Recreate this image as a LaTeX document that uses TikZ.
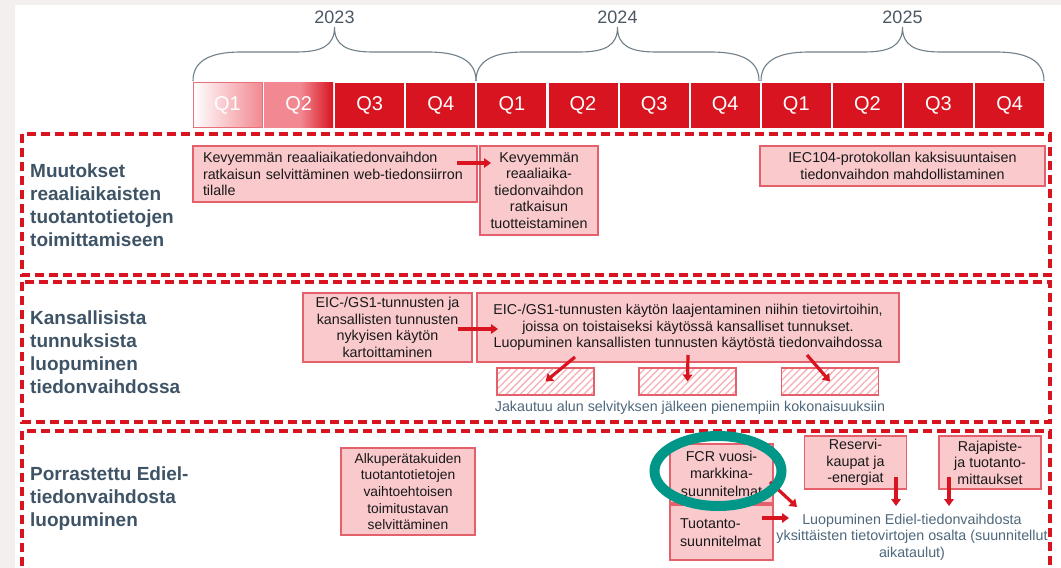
\documentclass[tikz,border=0pt]{standalone}
\usepackage{fontspec}
\setmainfont{Liberation Sans}
\usetikzlibrary{arrows.meta,patterns.meta}
\definecolor{dred}{RGB}{215,20,31}
\definecolor{qpink}{RGB}{242,137,146}
\definecolor{qline}{RGB}{232,112,122}
\definecolor{taskfill}{RGB}{249,201,204}
\definecolor{taskline}{RGB}{228,96,106}
\definecolor{hatchpink}{RGB}{246,176,182}
\definecolor{titleblue}{RGB}{62,84,102}
\definecolor{noteblue}{RGB}{78,104,125}
\definecolor{yeargray}{RGB}{75,88,100}
\definecolor{bracegray}{RGB}{112,128,138}
\definecolor{ringteal}{RGB}{0,150,136}
\definecolor{pagegray}{RGB}{244,239,239}
\pgfdeclarehorizontalshading{qtwoshade}{100bp}{color(0bp)=(qpink); color(25bp)=(qpink); color(51bp)=(qpink); color(75bp)=(dred); color(100bp)=(dred)}
\tikzset{
    qbox/.style={minimum width=69pt, minimum height=45pt, inner sep=0pt, text=white, font=\fontsize{20}{24}\selectfont},
    task/.style={draw=taskline, fill=taskfill, line width=1.2pt, inner sep=0pt, align=center, text=black!90, font=\fontsize{14.3}{16.6}\selectfont},
    phase/.style={draw=dred, line width=3.3pt, dash pattern=on 9pt off 5pt},
    phasetitle/.style={anchor=west, align=left, inner sep=0pt, text=titleblue, font=\fontsize{19}{23}\bfseries\selectfont},
    note/.style={align=center, inner sep=0pt, text=noteblue, font=\fontsize{14.3}{16.6}\selectfont},
    redarrow/.style={draw=dred, line width=3.2pt, -{Triangle[length=7pt,width=9.5pt]}},
    hatchbox/.style={draw=taskline, line width=1.2pt, minimum width=97pt, minimum height=27pt, inner sep=0pt, pattern={Lines[angle=45,distance=5pt,line width=1.3pt]}, pattern color=hatchpink},
    yearlabel/.style={text=yeargray, font=\fontsize{18}{20}\selectfont}
}

\begin{document}
\begin{tikzpicture}[x=1pt,y=-1pt]
        \useasboundingbox (0,0) rectangle (1061,568);
        \fill[pagegray] (0,0) rectangle (1061,568);
        \fill[white] (15,5) rectangle (1061,568);

        \foreach \x/\yr in {193/2023,476/2024,761/2025} {
            \draw[bracegray, line width=1.1pt] (\x,81) .. controls (\x,62) and (\x+15,52) .. (\x+48,52) -- (\x+103,52)
                .. controls (\x+130,52) and (\x+141.5,45) .. (\x+141.5,27)
                .. controls (\x+141.5,45) and (\x+153,52) .. (\x+180,52) -- (\x+235,52)
                .. controls (\x+268,52) and (\x+283,62) .. (\x+283,81);
            \node[yearlabel] (y\yr) at (\x+141.5,17) {\yr};
        }

        \node[qbox, left color=white, right color=qpink, draw=qline, line width=1pt] (q0) at (227.5,105) {Q1};
        \node[qbox, shading=qtwoshade] (q1) at (298.6,105) {Q2};
        \foreach \i in {2,...,11} {
            \pgfmathtruncatemacro\q{mod(\i,4)+1}
            \node[qbox, fill=dred] (q\i) at (227.5+\i*71.1,105) {Q\q};
        }

        \draw[phase] (22,134) rectangle (1050,275);
        \draw[phase] (22,282) rectangle (1050,422);
        \draw[phase] (22,580) -- (22,431) -- (1050,431) -- (1050,580);

        \node[phasetitle] (t1) at (30,205) {Muutokset\\reaaliaikaisten\\tuotantotietojen\\toimittamiseen};
        \node[phasetitle] (t2) at (30,352) {Kansallisista\\tunnuksista\\luopuminen\\tiedonvaihdossa};
        \node[phasetitle] (t3) at (30,499) {Porrastettu Ediel-\\tiedonvaihdosta\\luopuminen};

        \node[task, align=left, text width=264pt, inner xsep=10pt, minimum height=56pt] (kevsel) at (335,174)
            {Kevyemmän reaaliaikatiedonvaihdon\\ratkaisun selvittäminen web-tiedonsiirron\\tilalle};
        \node[task, minimum width=118pt, minimum height=89pt] (kevtuo) at (539,190.5)
            {Kevyemmän\\reaaliaika-\\tiedonvaihdon\\ratkaisun\\tuotteistaminen};
        \node[task, minimum width=285pt, minimum height=40pt] (iec) at (902.5,166)
            {IEC104-protokollan kaksisuuntaisen\\tiedonvaihdon mahdollistaminen};
        \coordinate (kevs) at (457,163);
        \coordinate (keve) at (491,163);
        \draw[redarrow] (kevs) -- (keve);

        \node[task, minimum width=169pt, minimum height=69pt] (eickar) at (387.5,327.5)
            {EIC-/GS1-tunnusten ja\\kansallisten tunnusten\\nykyisen käytön\\kartoittaminen};
        \node[task, minimum width=422pt, minimum height=69pt] (eiclaa) at (688,327.5)
            {EIC-/GS1-tunnusten käytön laajentaminen niihin tietovirtoihin,\\joissa on toistaiseksi käytössä kansalliset tunnukset.\\Luopuminen kansallisten tunnusten käytöstä tiedonvaihdossa};
        \coordinate (eics) at (458,329);
        \coordinate (eice) at (498,329);
        \draw[redarrow] (eics) -- (eice);
        \node[hatchbox] (osa1) at (545.5,381.5) {};
        \node[hatchbox] (osa2) at (687.5,381.5) {};
        \node[hatchbox] (osa3) at (830,381.5) {};
        \coordinate (jak1) at (575,357);
        \coordinate (jak2) at (688,355);
        \coordinate (jak3) at (807,355);
        \draw[redarrow] (jak1) -- (osa1.center);
        \draw[redarrow] (jak2) -- (osa2.center);
        \draw[redarrow] (jak3) -- (osa3.center);
        \node[note] (jakautuu) at (690,408) {Jakautuu alun selvityksen jälkeen pienempiin kokonaisuuksiin};

        \node[task, minimum width=134pt, minimum height=87pt, font=\fontsize{13.8}{16.7}\selectfont] (alku) at (408,491.5)
            {Alkuperätakuiden\\tuotantotietojen\\vaihtoehtoisen\\toimitustavan\\selvittäminen};
        \node[task, minimum width=103pt, minimum height=59pt, font=\fontsize{14.3}{17.5}\selectfont] (fcr) at (721.5,473.5)
            {FCR vuosi-\\markkina-\\suunnitelmat};
        \node[task, align=left, text width=83pt, inner xsep=10pt, minimum height=55pt, font=\fontsize{14.3}{17.5}\selectfont] (tuot) at (721.5,532.5)
            {Tuotanto-\\suunnitelmat};
        \node[task, minimum width=102.5pt, minimum height=53pt] (reserv) at (855.5,462.5)
            {Reservi-\\kaupat ja\\-energiat};
        \node[task, minimum width=102pt, minimum height=53pt] (raja) at (990,462.5)
            {Rajapiste-\\ja tuotanto-\\mittaukset};
        \node[note] (ediel) at (912,537)
            {Luopuminen Ediel-tiedonvaihdosta\\yksittäisten tietovirtojen osalta (suunnitellut\\aikataulut)};
        \coordinate (fcrs) at (770,482);
        \coordinate (fcre) at (797,507);
        \coordinate (tuots) at (762,518);
        \coordinate (tuote) at (789,518);
        \coordinate (ress) at (896,477);
        \coordinate (rese) at (896,506);
        \coordinate (rajs) at (949,477);
        \coordinate (raje) at (949,506);
        \draw[redarrow] (fcrs) -- (fcre);
        \draw[redarrow] (tuots) -- (tuote);
        \draw[redarrow] (ress) -- (rese);
        \draw[redarrow] (rajs) -- (raje);

        \draw[ringteal, line width=10pt] (718,471) ellipse [x radius=63.5pt, y radius=35pt];
    \end{tikzpicture}
\end{document}
